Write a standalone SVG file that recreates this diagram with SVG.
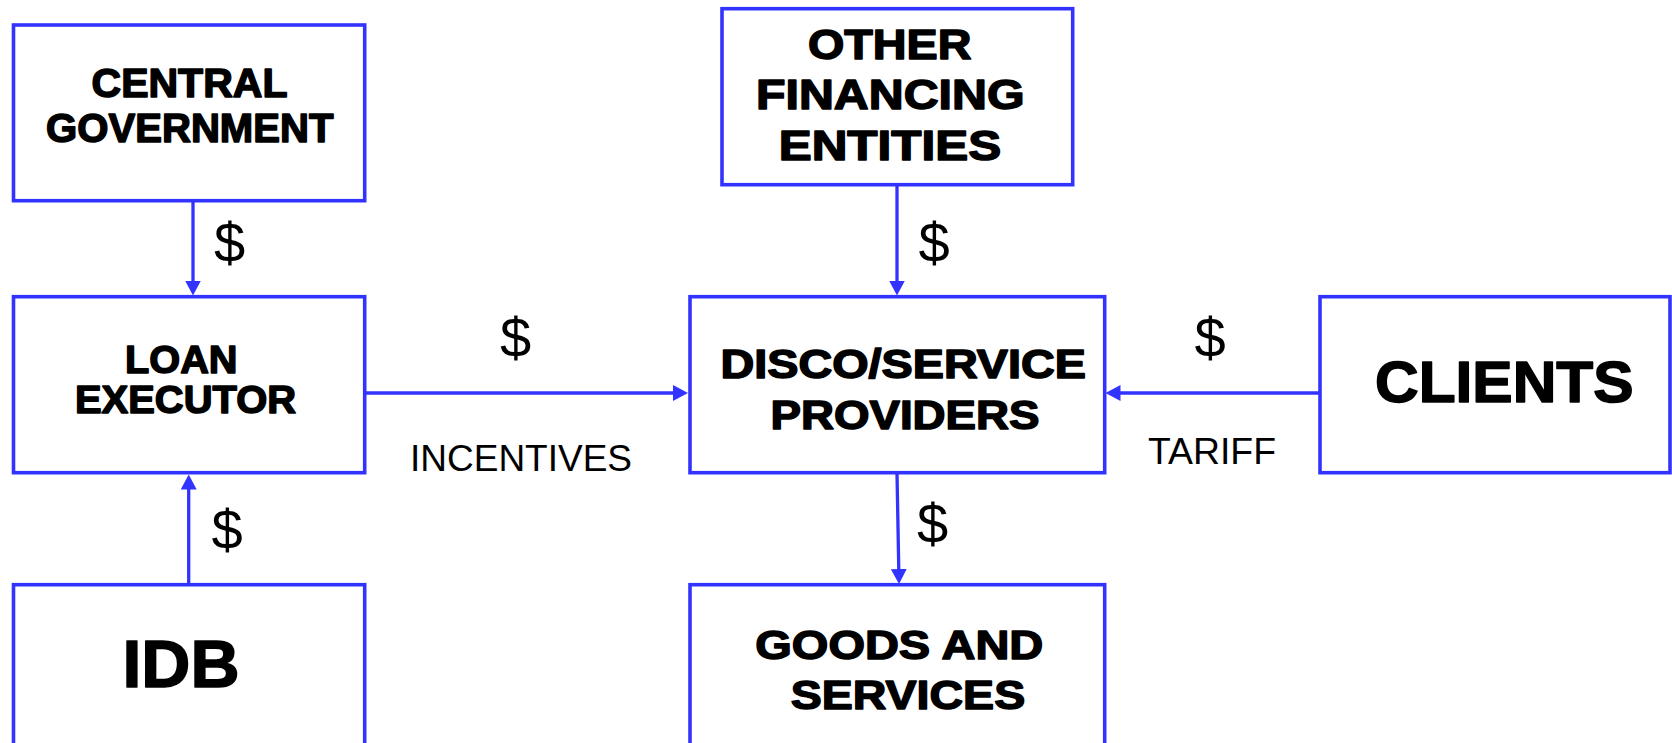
<svg xmlns="http://www.w3.org/2000/svg" width="1672" height="743" viewBox="0 0 1672 743">
<style>
.box{fill:#ffffff;stroke:#3333ff;stroke-width:3.6}
.lbl{font-family:'Liberation Sans',Arial,sans-serif;font-weight:bold;fill:#000;stroke:#000;stroke-width:1.5;stroke-linejoin:round}
.reg{font-family:'Liberation Sans',Arial,sans-serif;font-size:36px;fill:#000}
.dol{font-family:'Liberation Sans',Arial,sans-serif;font-size:56px;fill:#000;text-anchor:middle}
.con{fill:none;stroke:#3333ff;stroke-width:3.3}
</style>
<defs>
<marker id="ah" markerUnits="userSpaceOnUse" markerWidth="15" markerHeight="16" viewBox="0 0 15 16" refX="2" refY="8" orient="auto">
<path d="M0,0 L15,8 L0,16 z" fill="#3333ff"/>
</marker>
</defs>
<rect width="1672" height="743" fill="#ffffff"/>
<g id="connectors">
<line class="con" x1="193" y1="201" x2="193" y2="282.5" marker-end="url(#ah)"/>
<line class="con" x1="188.7" y1="585" x2="188.7" y2="487.5" marker-end="url(#ah)"/>
<line class="con" x1="366" y1="393" x2="675" y2="393" marker-end="url(#ah)"/>
<line class="con" x1="1320" y1="393" x2="1118.5" y2="393" marker-end="url(#ah)"/>
<line class="con" x1="897" y1="185" x2="897" y2="282.5" marker-end="url(#ah)"/>
<line class="con" x1="897" y1="473" x2="898.8" y2="571" marker-end="url(#ah)"/>
<text class="dol" x="229.5" y="261.5">$</text>
<text class="dol" x="515.5" y="357">$</text>
<text class="dol" x="934" y="261.5">$</text>
<text class="dol" x="1210" y="357">$</text>
<text class="dol" x="227" y="549">$</text>
<text class="dol" x="932.5" y="542.5">$</text>
<text class="reg" x="410" y="470.5" textLength="222" lengthAdjust="spacingAndGlyphs">INCENTIVES</text>
<text class="reg" x="1148" y="464" textLength="128" lengthAdjust="spacingAndGlyphs">TARIFF</text>
</g>
<g id="central-government">
<rect class="box" x="13.5" y="25" width="351.2" height="175.7"/>
<text class="lbl" font-size="40" x="91.5" y="96.5" textLength="196" lengthAdjust="spacingAndGlyphs">CENTRAL</text>
<text class="lbl" font-size="40" x="46" y="142" textLength="287.5" lengthAdjust="spacingAndGlyphs">GOVERNMENT</text>
</g>
<g id="loan-executor">
<rect class="box" x="13.5" y="296.7" width="351.2" height="176"/>
<text class="lbl" font-size="39" x="125" y="373" textLength="112.5" lengthAdjust="spacingAndGlyphs">LOAN</text>
<text class="lbl" font-size="39" x="75" y="413" textLength="221" lengthAdjust="spacingAndGlyphs">EXECUTOR</text>
</g>
<g id="idb">
<rect class="box" x="13.5" y="584.7" width="351.2" height="180"/>
<text class="lbl" font-size="66" x="122.5" y="686.5" textLength="117" lengthAdjust="spacingAndGlyphs">IDB</text>
</g>
<g id="other-financing-entities">
<rect class="box" x="722" y="8.7" width="350.7" height="176"/>
<text class="lbl" font-size="42" x="808" y="58.5" textLength="163.5" lengthAdjust="spacingAndGlyphs">OTHER</text>
<text class="lbl" font-size="42" x="756" y="108.5" textLength="268.5" lengthAdjust="spacingAndGlyphs">FINANCING</text>
<text class="lbl" font-size="42" x="778.7" y="159.5" textLength="222.5" lengthAdjust="spacingAndGlyphs">ENTITIES</text>
</g>
<g id="disco-service-providers">
<rect class="box" x="690" y="296.7" width="414.7" height="176"/>
<text class="lbl" font-size="40" x="720.5" y="378" textLength="365.5" lengthAdjust="spacingAndGlyphs">DISCO/SERVICE</text>
<text class="lbl" font-size="40" x="770.5" y="429" textLength="269" lengthAdjust="spacingAndGlyphs">PROVIDERS</text>
</g>
<g id="clients">
<rect class="box" x="1320" y="296.7" width="350" height="176"/>
<text class="lbl" font-size="58" x="1375" y="401.5" textLength="258.5" lengthAdjust="spacingAndGlyphs">CLIENTS</text>
</g>
<g id="goods-and-services">
<rect class="box" x="690" y="584.7" width="414.7" height="180"/>
<text class="lbl" font-size="41" x="755.3" y="659" textLength="288" lengthAdjust="spacingAndGlyphs">GOODS AND</text>
<text class="lbl" font-size="41" x="790.7" y="709" textLength="234.5" lengthAdjust="spacingAndGlyphs">SERVICES</text>
</g>
</svg>
